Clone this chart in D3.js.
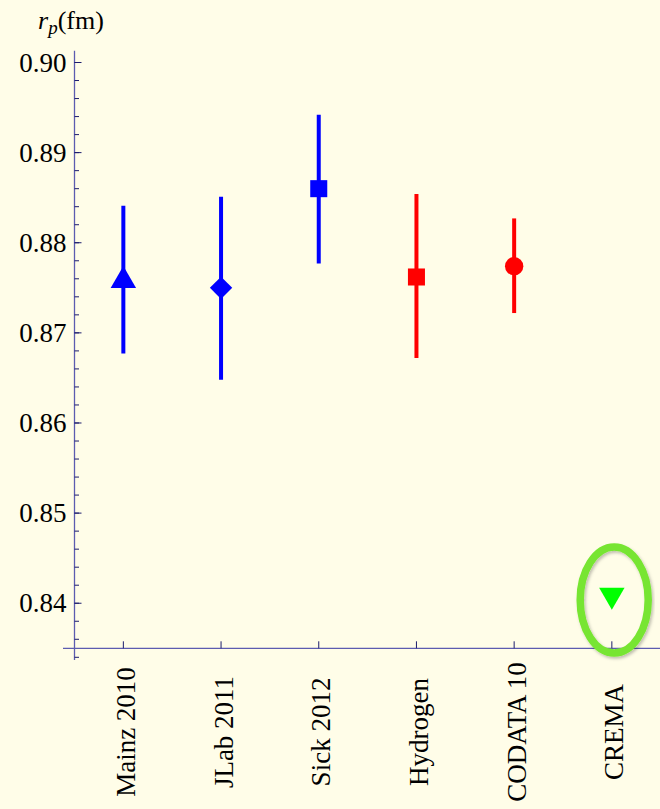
<!DOCTYPE html>
<html>
<head>
<meta charset="utf-8">
<script src="https://cdn.jsdelivr.net/npm/d3@7"></script>
<style>
  body { margin: 0; background: #fffde8; }
  svg { display: block; }
  text { font-family: "Liberation Serif", "Times New Roman", Times, "DejaVu Serif", serif; }
</style>
</head>
<body>
<div id="chart"></div>
<script>
const width = 660;
const height = 809;

// data
const categories = ["Mainz 2010", "JLab 2011", "Sick 2012", "Hydrogen", "CODATA 10", "CREMA"];
const values = [0.8758, 0.8750, 0.8860, 0.8762, 0.8774, 0.8409];
const lows = [0.8677, 0.8648, 0.8777, 0.8672, 0.8722, 0.8409];
const highs = [0.8841, 0.8851, 0.8942, 0.8854, 0.8827, 0.8409];
const shapes = ["triangleUp", "diamond", "square", "square", "circle", "triangleDown"];
const colors = ["#0000ff", "#0000ff", "#0000ff", "#ff0000", "#ff0000", "#00ff00"];
const yTicks = [0.84, 0.85, 0.86, 0.87, 0.88, 0.89, 0.90];

const svg = d3.select("#chart")
    .append("svg")
    .attr("width", width)
    .attr("height", height);

svg.append("rect")
    .attr("width", width)
    .attr("height", height)
    .attr("fill", "#fffde8");

const x = d3.scaleLinear().domain([0.5, 6.5]).range([74.5, 660.7]);
const y = d3.scaleLinear().domain([0.835, 0.90]).range([648.3, 62.5]);

const axisColor = "#5c5cb0";
const tickColor = "#1c1c6c";

// y axis
svg.append("line")
    .attr("x1", x(0.5)).attr("x2", x(0.5))
    .attr("y1", y(0.9013)).attr("y2", y(0.8337))
    .attr("stroke", axisColor).attr("stroke-width", 1.3);

const minorTicks = d3.range(0, 34).map(i => 0.834 + i * 0.002).filter(v => v <= 0.9005);
svg.selectAll(".minor")
    .data(minorTicks)
    .enter()
    .append("line")
    .attr("x1", x(0.5)).attr("x2", x(0.5) + 4.5)
    .attr("y1", d => y(d)).attr("y2", d => y(d))
    .attr("stroke", tickColor).attr("stroke-width", 1);

svg.selectAll(".major")
    .data(yTicks)
    .enter()
    .append("line")
    .attr("x1", x(0.5)).attr("x2", x(0.5) + 7)
    .attr("y1", d => y(d)).attr("y2", d => y(d))
    .attr("stroke", tickColor).attr("stroke-width", 1);

svg.selectAll(".ylabel")
    .data(yTicks)
    .enter()
    .append("text")
    .attr("x", x(0.5) - 8)
    .attr("y", d => y(d) + 9)
    .attr("text-anchor", "end")
    .attr("font-size", "27px")
    .attr("fill", "#000")
    .text(d => d.toFixed(2));

// axis title r_p (fm)
const title = svg.append("text")
    .attr("x", 38)
    .attr("y", 29)
    .attr("font-size", "26px")
    .attr("fill", "#000");
title.append("tspan").attr("font-style", "italic").text("r");
title.append("tspan").attr("font-style", "italic").attr("font-size", "19px").attr("dy", 5).text("p");
title.append("tspan").attr("dy", -5).text("(fm)");

// x axis
svg.append("line")
    .attr("x1", 63).attr("x2", width)
    .attr("y1", y(0.835)).attr("y2", y(0.835))
    .attr("stroke", axisColor).attr("stroke-width", 1.3);

svg.selectAll(".xtick")
    .data(categories)
    .enter()
    .append("line")
    .attr("x1", (d, i) => x(i + 1)).attr("x2", (d, i) => x(i + 1))
    .attr("y1", y(0.835)).attr("y2", y(0.835) - 7)
    .attr("stroke", tickColor).attr("stroke-width", 1);

svg.selectAll(".xlabel")
    .data(categories)
    .enter()
    .append("text")
    .attr("transform", (d, i) => `translate(${x(i + 1) + 11.5},732) rotate(-90)`)
    .attr("text-anchor", "middle")
    .attr("font-size", "27px")
    .attr("fill", "#000")
    .text(d => d);

// error bars
svg.selectAll(".err")
    .data(values)
    .enter()
    .append("line")
    .attr("x1", (d, i) => x(i + 1)).attr("x2", (d, i) => x(i + 1))
    .attr("y1", (d, i) => y(lows[i])).attr("y2", (d, i) => y(highs[i]))
    .attr("stroke", (d, i) => colors[i])
    .attr("stroke-width", 4);

// markers
const symbolFor = {
    triangleUp: d3.symbol().type(d3.symbolTriangle).size(280),
    triangleDown: d3.symbol().type(d3.symbolTriangle).size(280),
    diamond: d3.symbol().type(d3.symbolSquare).size(250),
    square: d3.symbol().type(d3.symbolSquare).size(290),
    circle: d3.symbol().type(d3.symbolCircle).size(265)
};
const rotation = { triangleUp: 0, triangleDown: 180, diamond: 45, square: 0, circle: 0 };

svg.selectAll(".marker")
    .data(values)
    .enter()
    .append("path")
    .attr("d", (d, i) => symbolFor[shapes[i]]())
    .attr("transform", (d, i) => `translate(${x(i + 1)},${y(d)}) rotate(${rotation[shapes[i]]})`)
    .attr("fill", (d, i) => colors[i]);

// highlight ring round CREMA
const defs = svg.append("defs");
defs.append("filter").attr("id", "shadow")
    .append("feDropShadow")
    .attr("dx", 1.5).attr("dy", 2).attr("stdDeviation", 1.5)
    .attr("flood-color", "#000").attr("flood-opacity", 0.25);

svg.append("ellipse")
    .attr("cx", 614.2)
    .attr("cy", 600)
    .attr("rx", 34)
    .attr("ry", 53)
    .attr("fill", "none")
    .attr("stroke", "#77e531")
    .attr("stroke-width", 7.5)
    .attr("filter", "url(#shadow)");
</script>
</body>
</html>
